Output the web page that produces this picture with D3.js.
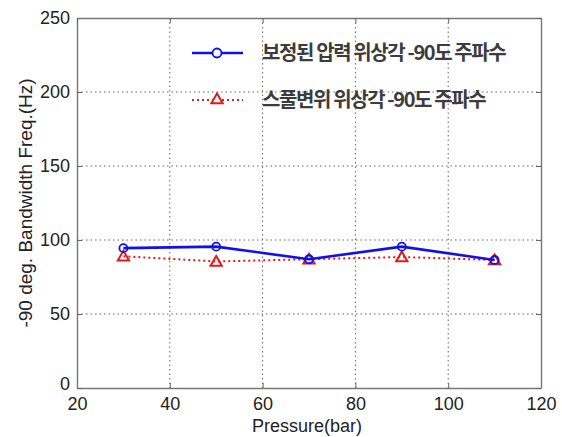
<!DOCTYPE html>
<html>
<head>
<meta charset="utf-8">
<script src="https://cdn.jsdelivr.net/npm/d3@7"></script>
<style>
  html, body { margin: 0; padding: 0; background: #fff; }
  svg { display: block; }
</style>
</head>
<body>
<svg id="chart" width="562" height="437"></svg>
<script>
// Pressure (bar) at which the -90 deg bandwidth was measured
const pressure = [30, 50, 70, 90, 110];
// Compensated pressure phase -90 deg frequency (Hz)
const compensatedFreq = [94.5, 95.5, 87, 95.5, 86.5];
// Spool displacement phase -90 deg frequency (Hz)
const spoolFreq = [89, 85.5, 87, 88.5, 86.5];

const xTicks = [20, 40, 60, 80, 100, 120];
const yTicks = [0, 50, 100, 150, 200, 250];

const seriesNames = ["보정된 압력 위상각 -90도 주파수", "스풀변위 위상각 -90도 주파수"];

(function drawChart() {
  const svg = d3.select("#chart");
  const plotL = 77, plotR = 541, plotT = 18, plotB = 388;

  const x = d3.scaleLinear().domain([20, 120]).range([plotL, plotR]);
  const y = d3.scaleLinear().domain([0, 250]).range([plotB, plotT]);

  const labelFont = "'Liberation Sans', Arial, sans-serif";

  // grid
  const grid = svg.append("g");
  grid.selectAll(".gx").data(xTicks.slice(1, -1)).join("line")
    .attr("x1", d => x(d)).attr("x2", d => x(d))
    .attr("y1", plotT).attr("y2", plotB)
    .attr("stroke", "#666").attr("stroke-width", 1)
    .attr("stroke-dasharray", "1.5,3");
  grid.selectAll(".gy").data(yTicks.slice(1, -1)).join("line")
    .attr("x1", plotL).attr("x2", plotR)
    .attr("y1", d => y(d)).attr("y2", d => y(d))
    .attr("stroke", "#666").attr("stroke-width", 1)
    .attr("stroke-dasharray", "1.5,3");

  // axes with inward ticks
  const xAxis = svg.append("g").attr("transform", `translate(0,${plotB})`)
    .call(d3.axisBottom(x).tickValues(xTicks).tickSizeInner(-5).tickSizeOuter(0).tickPadding(9));
  const yAxis = svg.append("g").attr("transform", `translate(${plotL},0)`)
    .call(d3.axisLeft(y).tickValues(yTicks).tickSizeInner(-5).tickSizeOuter(0).tickPadding(7));
  const xTop = svg.append("g").attr("transform", `translate(0,${plotT})`)
    .call(d3.axisTop(x).tickValues(xTicks).tickSizeInner(-5).tickSizeOuter(0).tickFormat(""));
  const yRight = svg.append("g").attr("transform", `translate(${plotR},0)`)
    .call(d3.axisRight(y).tickValues(yTicks).tickSizeInner(-5).tickSizeOuter(0).tickFormat(""));

  [xAxis, yAxis, xTop, yRight].forEach(g => {
    g.select(".domain").attr("stroke", "#777").attr("stroke-width", 1.4);
    g.selectAll(".tick line").attr("stroke", "#666");
    g.selectAll("text").attr("font-family", labelFont).attr("font-size", 18).attr("fill", "#222");
  });
  // the zero label sits slightly above the corner
  yAxis.selectAll(".tick").filter(d => d === 0).select("text").attr("dy", "0.1em");

  // axis titles
  svg.append("text")
    .attr("x", 307).attr("y", 432)
    .attr("text-anchor", "middle")
    .attr("font-family", labelFont).attr("font-size", 18).attr("fill", "#222")
    .text("Pressure(bar)");
  svg.append("text")
    .attr("transform", `translate(32,${(plotT + plotB) / 2}) rotate(-90)`)
    .attr("text-anchor", "middle")
    .attr("font-family", labelFont).attr("font-size", 19).attr("fill", "#222")
    .text("-90 deg. Bandwidth Freq.(Hz)");

  const line = d3.line().x(d => x(d[0])).y(d => y(d[1]));
  const spoolPts = pressure.map((p, i) => [p, spoolFreq[i]]);
  const compPts = pressure.map((p, i) => [p, compensatedFreq[i]]);

  const tri = d3.symbol().type(d3.symbolTriangle).size(55);

  // spool displacement series (red dotted, triangles)
  svg.append("path").datum(spoolPts)
    .attr("d", line).attr("fill", "none")
    .attr("stroke", "#e41a1a").attr("stroke-width", 2).attr("stroke-dasharray", "2,3");
  svg.selectAll(".tri").data(spoolPts).join("path")
    .attr("d", tri)
    .attr("transform", d => `translate(${x(d[0])},${y(d[1]) + 1})`)
    .attr("fill", "none").attr("stroke", "#e41a1a").attr("stroke-width", 2);

  // compensated pressure series (blue solid, circles)
  svg.append("path").datum(compPts)
    .attr("d", line).attr("fill", "none")
    .attr("stroke", "#1010e8").attr("stroke-width", 2.6);
  svg.selectAll(".circ").data(compPts).join("circle")
    .attr("cx", d => x(d[0])).attr("cy", d => y(d[1])).attr("r", 4)
    .attr("fill", "none").attr("stroke", "#1010e8").attr("stroke-width", 1.8);

  // legend
  const legend = svg.append("g");
  const legendRows = [
    { name: seriesNames[0], y: 53, color: "#1010e8", dash: null, width: 2.6, marker: "circle" },
    { name: seriesNames[1], y: 100, color: "#e41a1a", dash: "2,3", width: 2, marker: "tri" }
  ];
  legendRows.forEach(r => {
    legend.append("line")
      .attr("x1", 192).attr("x2", 243).attr("y1", r.y).attr("y2", r.y)
      .attr("stroke", r.color).attr("stroke-width", r.width)
      .attr("stroke-dasharray", r.dash);
    if (r.marker === "circle") {
      legend.append("circle").attr("cx", 217).attr("cy", r.y).attr("r", 4.5)
        .attr("fill", "#fff").attr("stroke", r.color).attr("stroke-width", 1.8);
    } else {
      legend.append("path").attr("d", tri)
        .attr("transform", `translate(217,${r.y})`)
        .attr("fill", "#fff").attr("stroke", r.color).attr("stroke-width", 2);
    }
    legend.append("text")
      .attr("x", 262).attr("y", r.y + 7)
      .attr("font-family", "'Noto Sans CJK KR', sans-serif")
      .attr("font-weight", 700).attr("font-size", 20).attr("letter-spacing", -1.4)
      .attr("fill", "#3c3c3c")
      .text(r.name);
  });
})();
</script>
</body>
</html>
